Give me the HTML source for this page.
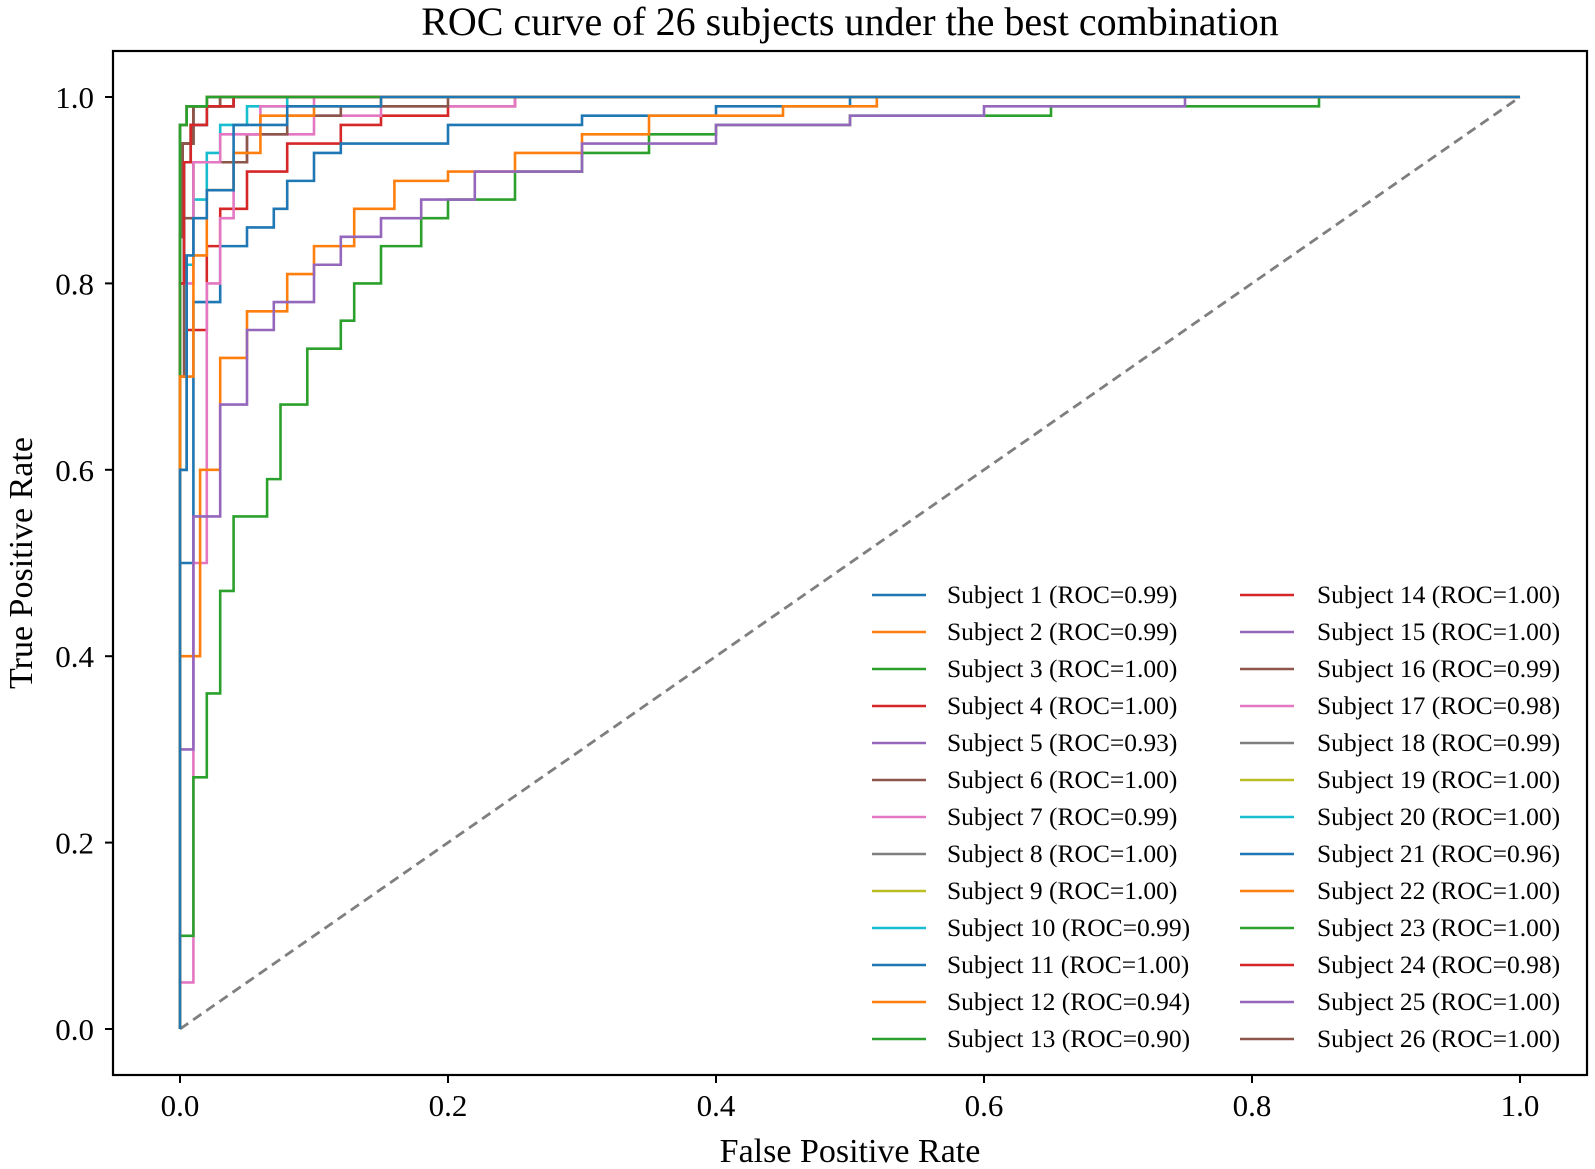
<!DOCTYPE html>
<html><head><meta charset="utf-8"><style>
body{margin:0;background:#fff;}
svg{display:block;font-family:"Liberation Serif",serif;}
</style></head><body>
<svg id="chart" width="1595" height="1169" viewBox="0 0 1595 1169" xmlns="http://www.w3.org/2000/svg">
<text x="850" y="35" font-size="40" text-anchor="middle">ROC curve of 26 subjects under the best combination</text>
<g id="plot"></g>
<rect x="113" y="51" width="1474" height="1024" fill="none" stroke="#000" stroke-width="2.2"/>
<text x="850" y="1162" font-size="34" text-anchor="middle">False Positive Rate</text>
<text transform="translate(32,563) rotate(-90)" font-size="34" text-anchor="middle">True Positive Rate</text>
<g id="ticks"></g>
<g id="legend"></g>
</svg>
<script>
const xTicks=[0,0.2,0.4,0.6,0.8,1.0];
const yTicks=[0,0.2,0.4,0.6,0.8,1.0];
const colors=['#1f77b4','#ff7f0e','#2ca02c','#d62728','#9467bd','#8c564b','#e377c2','#7f7f7f','#bcbd22','#17becf'];
const aucs=["0.99","0.99","1.00","1.00","0.93","1.00","0.99","1.00","1.00","0.99","1.00","0.94","0.90","1.00","1.00","0.99","0.98","0.99","1.00","1.00","0.96","1.00","1.00","0.98","1.00","1.00"];
const near1=[[0,0],[0,0.9],[0.005,0.97],[0.02,0.99],[0.05,1],[1,1]];
const near2=[[0,0],[0.002,0.85],[0.01,0.95],[0.03,0.99],[0.08,1],[1,1]];
const near3=[[0,0],[0.003,0.8],[0.008,0.93],[0.02,0.97],[0.04,0.99],[0.12,1],[1,1]];
const s1=[[0,0],[0.005,0.6],[0.01,0.83],[0.02,0.87],[0.04,0.9],[0.08,0.97],[0.15,0.99],[0.25,1],[1,1]];
const s2=[[0,0],[0.01,0.7],[0.02,0.83],[0.04,0.9],[0.06,0.94],[0.1,0.98],[0.15,0.99],[0.3,1],[1,1]];
const s5=[[0,0],[0.01,0.3],[0.03,0.55],[0.05,0.67],[0.07,0.75],[0.1,0.78],[0.12,0.82],[0.15,0.85],[0.18,0.87],[0.22,0.89],[0.3,0.92],[0.4,0.95],[0.5,0.97],[0.6,0.98],[0.75,0.99],[0.85,1],[1,1]];
const s7=[[0,0],[0.01,0.8],[0.03,0.93],[0.06,0.96],[0.1,0.99],[0.2,1],[1,1]];
const s10=[[0,0],[0.005,0.6],[0.01,0.82],[0.02,0.89],[0.03,0.94],[0.05,0.97],[0.08,0.99],[0.15,1],[1,1]];
const s12=[[0,0],[0.015,0.4],[0.03,0.6],[0.05,0.72],[0.08,0.77],[0.1,0.81],[0.13,0.84],[0.16,0.88],[0.2,0.91],[0.25,0.92],[0.3,0.94],[0.35,0.96],[0.45,0.98],[0.52,0.99],[0.6,1],[1,1]];
const s13=[[0,0],[0.01,0.1],[0.02,0.27],[0.03,0.36],[0.04,0.47],[0.065,0.55],[0.075,0.59],[0.095,0.67],[0.12,0.73],[0.13,0.76],[0.15,0.8],[0.18,0.84],[0.2,0.87],[0.25,0.89],[0.3,0.92],[0.35,0.94],[0.4,0.96],[0.5,0.97],[0.65,0.98],[0.85,0.99],[1,1]];
const s16=[[0,0],[0.003,0.7],[0.01,0.87],[0.02,0.93],[0.05,0.93],[0.08,0.96],[0.12,0.98],[0.2,0.99],[0.3,1],[1,1]];
const s17=[[0,0],[0.01,0.05],[0.02,0.5],[0.03,0.8],[0.04,0.87],[0.05,0.93],[0.1,0.96],[0.15,0.98],[0.25,0.99],[0.4,1],[1,1]];
const s21=[[0,0],[0.01,0.5],[0.03,0.78],[0.05,0.84],[0.07,0.86],[0.08,0.88],[0.1,0.91],[0.12,0.94],[0.2,0.95],[0.3,0.97],[0.4,0.98],[0.5,0.99],[0.7,1],[1,1]];
const s24=[[0,0],[0.005,0.6],[0.02,0.75],[0.03,0.84],[0.05,0.88],[0.08,0.92],[0.12,0.95],[0.15,0.97],[0.2,0.98],[0.25,0.99],[0.35,1],[1,1]];
const curves=[s1,s2,near1,near3,s5,near2,s7,near1,near1,s10,near3,s12,s13,near2,near1,s16,s17,near3,near1,near2,s21,near3,near2,s24,near1,near1];
const NS='http://www.w3.org/2000/svg';
const X0=180,X1=1520,Y0=1029,Y1=97;
const sx=v=>X0+(X1-X0)*v, sy=v=>Y0-(Y0-Y1)*v;
function mk(t,a,p){const e=document.createElementNS(NS,t);for(const k in a)e.setAttribute(k,a[k]);p.appendChild(e);return e;}
const plot=document.getElementById('plot');
const diag=mk('line',{x1:sx(0),y1:sy(0),x2:sx(1),y2:sy(1),stroke:'#7f7f7f','stroke-width':2.8,'stroke-dasharray':'10,6'},plot);


for(let i=curves.length-1;i>=0;i--){
  let d='';curves[i].forEach((p,j)=>{
    if(j===0)d+='M'+sx(p[0])+','+sy(p[1]);
    else{d+='V'+sy(p[1])+'H'+sx(p[0]);}
  });
  const el=mk('path',{d:d,fill:'none',stroke:colors[i%10],'stroke-width':2.6},plot);
  
  
}
const ticks=document.getElementById('ticks');
xTicks.forEach(v=>{
  const l=mk('line',{x1:sx(v),x2:sx(v),y1:1075,y2:1083,stroke:'#000','stroke-width':2},ticks);
  
  
  const t=mk('text',{x:sx(v),y:1116,'font-size':31,'text-anchor':'middle'},ticks);t.textContent=v.toFixed(1);
  
  
});
yTicks.forEach(v=>{
  const l=mk('line',{x1:105,x2:113,y1:sy(v),y2:sy(v),stroke:'#000','stroke-width':2},ticks);
  
  
  const t=mk('text',{x:94,y:sy(v)+11,'font-size':31,'text-anchor':'end'},ticks);t.textContent=v.toFixed(1);
  
  
});
const leg=document.getElementById('legend');
aucs.forEach((a,i)=>{
  const col=Math.floor(i/13),row=i%13;
  const lx=col?1240:872, tx=col?1317:947, y=595+row*37;
  const g=mk('g',{},leg);
  
  
  mk('line',{x1:lx,x2:lx+54,y1:y,y2:y,stroke:colors[i%10],'stroke-width':2.6},g);
  const t=mk('text',{x:tx,y:y+8,'font-size':25.5},g);t.textContent='Subject '+(i+1)+' (ROC='+a+')';
});
</script>
</body></html>
